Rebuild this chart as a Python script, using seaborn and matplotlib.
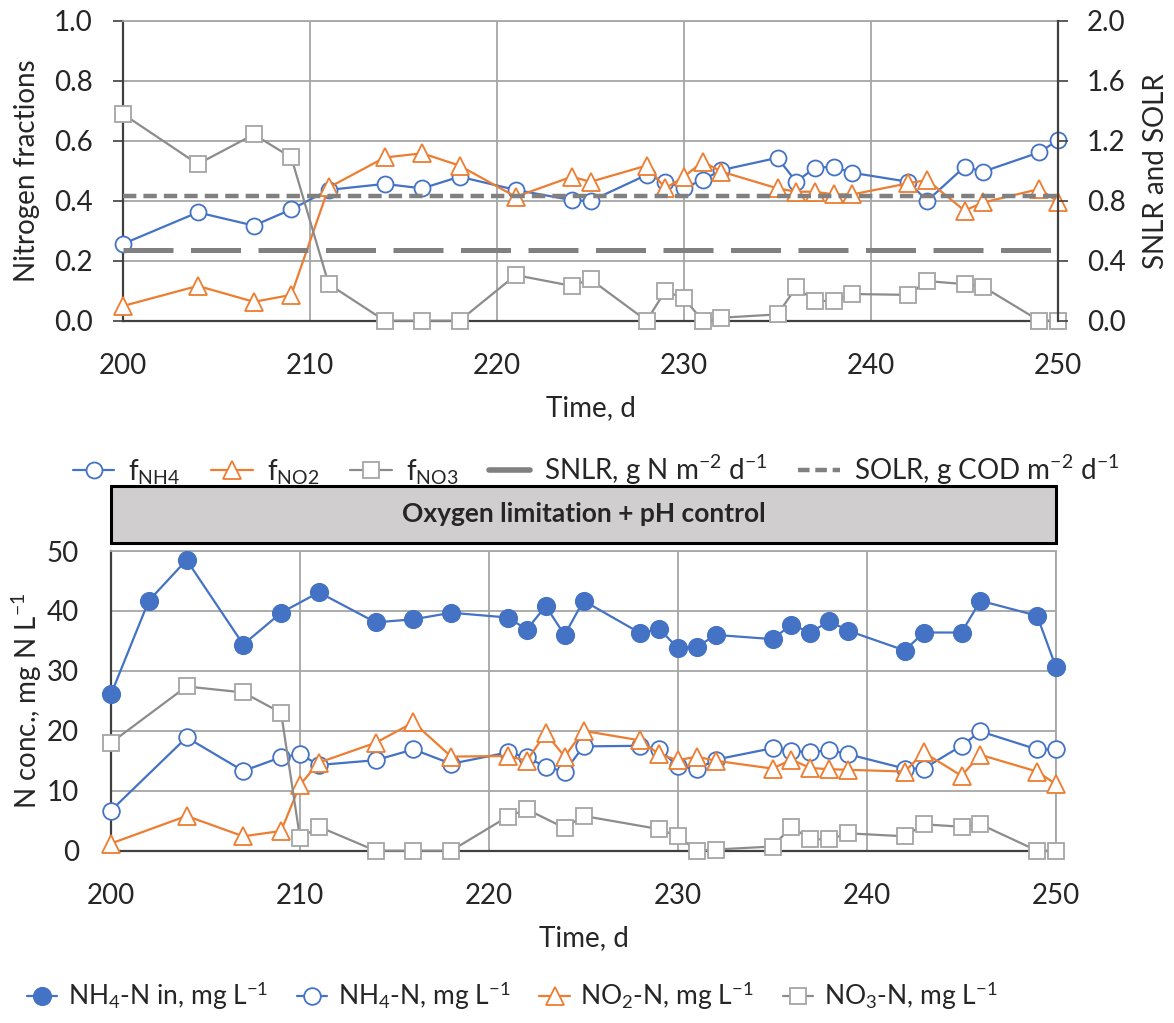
import matplotlib
matplotlib.use("Agg")
import matplotlib.pyplot as plt
from matplotlib.lines import Line2D
from matplotlib.patches import Rectangle
from matplotlib.ticker import FormatStrFormatter, MultipleLocator
import seaborn as sns

sns.set_style("white")
plt.rcParams["font.family"] = ["Lato", "DejaVu Sans"]
plt.rcParams["mathtext.fontset"] = "custom"
plt.rcParams["mathtext.rm"] = "Lato"
plt.rcParams["mathtext.it"] = "Lato:italic"
plt.rcParams["mathtext.bf"] = "Lato:bold"

# ---- nitrogen fractions (top panel) ----
frac_days = [200, 204, 207, 209, 211, 214, 216, 218, 221, 224, 225, 228, 229, 230,
             231, 232, 235, 236, 237, 238, 239, 242, 243, 245, 246, 249, 250]
f_nh4 = [0.256, 0.361, 0.317, 0.371, 0.436, 0.456, 0.441, 0.480, 0.436, 0.402, 0.399,
         0.486, 0.463, 0.443, 0.469, 0.502, 0.543, 0.463, 0.510, 0.513, 0.493, 0.463,
         0.399, 0.513, 0.497, 0.561, 0.602]
f_no2 = [0.049, 0.116, 0.063, 0.086, 0.444, 0.544, 0.558, 0.517, 0.413, 0.480, 0.463,
         0.517, 0.441, 0.480, 0.530, 0.497, 0.441, 0.430, 0.430, 0.421, 0.421, 0.458,
         0.469, 0.367, 0.394, 0.439, 0.397]
f_no3 = [0.689, 0.522, 0.621, 0.544, 0.122, 0.0, 0.0, 0.0, 0.152, 0.116, 0.138,
         0.0, 0.099, 0.074, 0.0, 0.010, 0.021, 0.111, 0.066, 0.066, 0.089, 0.086,
         0.132, 0.122, 0.113, 0.0, 0.0]

# surface loading rates (secondary axis)
load_days = [200, 250]
snlr = [0.47, 0.47]
solr = [0.83, 0.83]

# ---- concentrations (bottom panel) ----
nh4_in_days = [200, 202, 204, 207, 209, 211, 214, 216, 218, 221, 222, 223, 224, 225,
               228, 229, 230, 231, 232, 235, 236, 237, 238, 239, 242, 243, 245, 246,
               249, 250]
nh4_in = [26.1, 41.7, 48.5, 34.4, 39.7, 43.1, 38.1, 38.6, 39.7, 38.9, 36.9, 40.8, 36.0,
          41.7, 36.3, 37.0, 33.8, 34.0, 36.0, 35.3, 37.7, 36.4, 38.3, 36.7, 33.4, 36.4,
          36.4, 41.7, 39.2, 30.6]

eff_days = [200, 204, 207, 209, 210, 211, 214, 216, 218, 221, 222, 223, 224, 225,
            228, 229, 230, 231, 232, 235, 236, 237, 238, 239, 242, 243, 245, 246,
            249, 250]
nh4 = [6.7, 18.9, 13.3, 15.6, 16.1, 14.3, 15.1, 16.9, 14.5, 16.4, 15.6, 14.0, 13.2,
       17.4, 17.5, 16.9, 14.1, 13.6, 15.2, 17.1, 16.7, 16.4, 16.8, 16.1, 13.7, 13.7,
       17.5, 19.9, 16.9, 16.9]
no2 = [1.2, 5.8, 2.4, 3.3, 11.0, 14.7, 18.0, 21.4, 15.7, 15.8, 15.0, 19.6, 15.7,
       20.0, 18.4, 16.1, 15.1, 15.7, 15.0, 13.7, 15.2, 13.8, 13.6, 13.5, 13.2, 16.4,
       12.5, 16.0, 13.2, 11.1]

no3_days = [200, 204, 207, 209, 210, 211, 214, 216, 218, 221, 222, 224, 225, 229,
            230, 231, 232, 235, 236, 237, 238, 239, 242, 243, 245, 246, 249, 250]
no3 = [18.0, 27.4, 26.4, 23.0, 2.1, 4.0, 0.0, 0.0, 0.0, 5.7, 6.9, 3.8, 5.8, 3.6,
       2.4, 0.0, 0.2, 0.7, 4.0, 1.9, 1.9, 2.9, 2.4, 4.4, 4.0, 4.4, 0.0, 0.0]

BLUE = "#4472C4"
ORANGE = "#ED7D31"
SQ_EDGE = "#A5A5A5"
SQ_LINE = "#8C8C8C"
LOAD_GREY = "#808080"
GRID = "#A6A6A6"
AXIS = "#404040"
FS = 20

W, H = 1174, 1023
fig = plt.figure(figsize=(W / 100, H / 100), dpi=100)


def px_axes(left, top, right, bottom):
    return fig.add_axes([left / W, 1 - bottom / H, (right - left) / W, (bottom - top) / H])


ax_f = px_axes(123, 20.7, 1058, 320.7)
ax_l = ax_f.twinx()
ax_c = px_axes(111, 551, 1056, 850.7)


def draw(ax, x, y, color, marker, face, edge, ms, z=3):
    sns.lineplot(x=x, y=y, ax=ax, color=color, linewidth=1.6,
                 marker=marker, markersize=ms, markerfacecolor=face,
                 markeredgecolor=edge, markeredgewidth=1.3,
                 errorbar=None, legend=False, clip_on=False, zorder=z)


# top panel series
draw(ax_f, frac_days, f_nh4, BLUE, "o", "white", BLUE, 11.5)
draw(ax_f, frac_days, f_no2, ORANGE, "^", "white", ORANGE, 13)
draw(ax_f, frac_days, f_no3, SQ_LINE, "s", "white", SQ_EDGE, 11)

sns.lineplot(x=load_days, y=snlr, ax=ax_l, color=LOAD_GREY, linewidth=3.6,
             linestyle=(0, (10, 3.5)), errorbar=None, legend=False)
sns.lineplot(x=load_days, y=solr, ax=ax_l, color=LOAD_GREY, linewidth=3.2,
             linestyle=(0, (3, 1.6)), errorbar=None, legend=False)

ax_f.set_xlim(200, 250)
ax_f.set_ylim(0, 1)
ax_f.xaxis.set_major_locator(MultipleLocator(10))
ax_f.yaxis.set_major_locator(MultipleLocator(0.2))
ax_f.yaxis.set_major_formatter(FormatStrFormatter("%.1f"))
ax_f.xaxis.set_major_formatter(FormatStrFormatter("%d"))
ax_f.grid(True, color=GRID, linewidth=1.3)
ax_f.set_axisbelow(True)
ax_f.set_xlabel("")
ax_f.set_ylabel("")

ax_l.set_ylim(0, 2)
ax_l.yaxis.set_major_locator(MultipleLocator(0.4))
ax_l.yaxis.set_major_formatter(FormatStrFormatter("%.1f"))
ax_l.grid(False)
ax_l.set_ylabel("")

for name, sp in ax_f.spines.items():
    sp.set_visible(name in ("left", "bottom", "top"))
    sp.set_color(GRID if name == "top" else AXIS)
    sp.set_linewidth(1.3 if name == "top" else 1.6)
for name, sp in ax_l.spines.items():
    sp.set_visible(name == "right")
    sp.set_color(AXIS)
    sp.set_linewidth(1.6)

ax_f.tick_params(axis="y", direction="out", left=True, length=7, width=1.2,
                 color=AXIS, pad=15, labelsize=FS)
ax_f.tick_params(axis="x", length=0, pad=23, labelsize=FS)
ax_l.tick_params(axis="y", direction="out", right=True, length=7, width=1.2,
                 color=AXIS, pad=14, labelsize=FS)

# bottom panel series
draw(ax_c, nh4_in_days, nh4_in, BLUE, "o", BLUE, BLUE, 12.5)
draw(ax_c, eff_days, nh4, BLUE, "o", "white", BLUE, 12)
draw(ax_c, eff_days, no2, ORANGE, "^", "white", ORANGE, 13)
draw(ax_c, no3_days, no3, SQ_LINE, "s", "white", SQ_EDGE, 11.5)

ax_c.set_xlim(200, 250)
ax_c.set_ylim(0, 50)
ax_c.xaxis.set_major_locator(MultipleLocator(10))
ax_c.yaxis.set_major_locator(MultipleLocator(10))
ax_c.grid(True, color=GRID, linewidth=1.3)
ax_c.set_axisbelow(True)
ax_c.set_xlabel("")
ax_c.set_ylabel("")
for name, sp in ax_c.spines.items():
    sp.set_visible(True)
    dark = name in ("left", "bottom")
    sp.set_color(AXIS if dark else GRID)
    sp.set_linewidth(1.6 if dark else 1.3)
ax_c.tick_params(axis="both", length=0, pad=23, labelsize=FS)

# axis titles
fig.text(27 / W, 1 - 170.7 / H, "Nitrogen fractions", rotation=90,
         ha="center", va="center", fontsize=FS)
fig.text(1156 / W, 1 - 170.7 / H, "SNLR and SOLR", rotation=90,
         ha="center", va="center", fontsize=FS)
fig.text(590.5 / W, 1 - 408 / H, "Time, d", ha="center", va="center", fontsize=FS)
fig.text(27 / W, 1 - 701 / H, r"N conc., mg N L$^{\mathregular{-1}}$", rotation=90,
         ha="center", va="center", fontsize=FS)
fig.text(583.5 / W, 1 - 938 / H, "Time, d", ha="center", va="center", fontsize=FS)

# operating-phase banner
fig.patches.append(Rectangle((111 / W, 1 - 543.3 / H), (1056 - 111) / W,
                             (543.3 - 485.7) / H, transform=fig.transFigure,
                             facecolor="#D0CECE", edgecolor="black", linewidth=2.2))
fig.text(583.5 / W, 1 - 514.5 / H, "Oxygen limitation + pH control",
         ha="center", va="center", fontsize=19, fontweight="bold")

# legends
top_handles = [
    Line2D([], [], color=BLUE, marker="o", mfc="white", mec=BLUE, ms=11.5, mew=1.3, lw=1.6),
    Line2D([], [], color=ORANGE, marker="^", mfc="white", mec=ORANGE, ms=13, mew=1.3, lw=1.6),
    Line2D([], [], color=SQ_LINE, marker="s", mfc="white", mec=SQ_EDGE, ms=11, mew=1.3, lw=1.6),
    Line2D([], [], color=LOAD_GREY, lw=4),
    Line2D([], [], color=LOAD_GREY, lw=3.2, ls=(0, (2.6, 1.3))),
]
top_labels = [r"f$_{\mathregular{NH4}}$", r"f$_{\mathregular{NO2}}$", r"f$_{\mathregular{NO3}}$",
              r"SNLR, g N m$^{\mathregular{-2}}$ d$^{\mathregular{-1}}$",
              r"SOLR, g COD m$^{\mathregular{-2}}$ d$^{\mathregular{-1}}$"]
fig.legend(top_handles, top_labels, loc="center", bbox_to_anchor=(596 / W, 1 - 470 / H),
           ncol=5, frameon=False, fontsize=FS, handlelength=1.5, handletextpad=0.5,
           columnspacing=1.1, borderpad=0, borderaxespad=0)

bot_handles = [
    Line2D([], [], color=BLUE, marker="o", mfc=BLUE, mec=BLUE, ms=12.5, mew=1.3, lw=1.6),
    Line2D([], [], color=BLUE, marker="o", mfc="white", mec=BLUE, ms=12, mew=1.3, lw=1.6),
    Line2D([], [], color=ORANGE, marker="^", mfc="white", mec=ORANGE, ms=13, mew=1.3, lw=1.6),
    Line2D([], [], color=SQ_LINE, marker="s", mfc="white", mec=SQ_EDGE, ms=11.5, mew=1.3, lw=1.6),
]
bot_labels = [r"NH$_{\mathregular{4}}$-N in, mg L$^{\mathregular{-1}}$",
              r"NH$_{\mathregular{4}}$-N, mg L$^{\mathregular{-1}}$",
              r"NO$_{\mathregular{2}}$-N, mg L$^{\mathregular{-1}}$",
              r"NO$_{\mathregular{3}}$-N, mg L$^{\mathregular{-1}}$"]
fig.legend(bot_handles, bot_labels, loc="center", bbox_to_anchor=(512 / W, 1 - 996 / H),
           ncol=4, frameon=False, fontsize=19, handlelength=1.15, handletextpad=0.4,
           columnspacing=1.1, borderpad=0, borderaxespad=0)

fig.savefig("out.png", dpi=100)
